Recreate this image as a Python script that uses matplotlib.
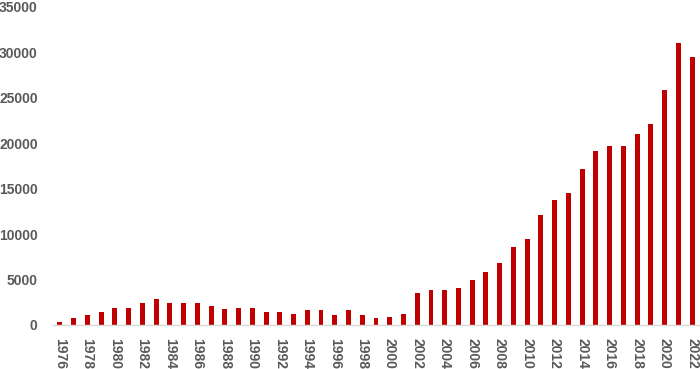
import matplotlib
matplotlib.use("Agg")
import matplotlib.pyplot as plt
import numpy as np

years = list(range(1976, 2023))
values = [
    350, 800, 1100, 1400, 1900, 1900, 2400, 2900, 2400, 2400,
    2400, 2100, 1800, 1900, 1900, 1400, 1400, 1250, 1600, 1600,
    1050, 1600, 1050, 750, 900, 1250, 3500, 3800, 3800, 4100,
    4900, 5800, 6800, 8600, 9500, 12100, 13800, 14500, 17200, 19200,
    19700, 19700, 21000, 22100, 25900, 31000, 29500,
]
tick_years = years[::2]

plt.rcParams["font.family"] = ["Liberation Sans", "DejaVu Sans"]
text_color = "#595959"

fig = plt.figure(figsize=(7.0, 3.69), dpi=100)
ax = fig.add_axes([53 / 700, 44 / 369, 646 / 700, 318 / 369])

x = np.arange(len(years))
ax.bar(x, values, width=0.36, color="#C00000", zorder=2)

ax.set_xlim(-0.5, len(years) - 0.5)
ax.set_ylim(0, 35000)
ax.set_yticks(range(0, 35001, 5000))
ax.set_yticklabels([str(v) for v in range(0, 35001, 5000)],
                   fontsize=10, fontweight="bold", color=text_color)
ax.set_xticks([years.index(y) for y in tick_years])
ax.set_xticklabels([str(y) for y in tick_years], rotation=270,
                   fontsize=10, fontweight="bold", color=text_color)
ax.tick_params(axis="both", length=0)
ax.tick_params(axis="y", pad=11)
ax.tick_params(axis="x", pad=9)

for side in ("top", "right", "left"):
    ax.spines[side].set_visible(False)
ax.spines["bottom"].set_color("#D9D9D9")
ax.spines["bottom"].set_linewidth(1.0)

fig.savefig("out.png", dpi=100)
